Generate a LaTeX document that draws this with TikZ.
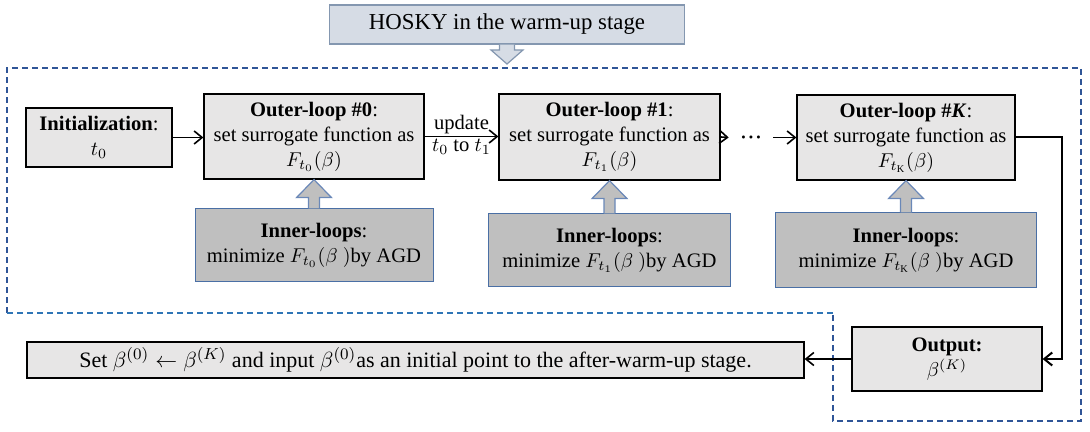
\documentclass[tikz,border=0pt]{standalone}
\usepackage{amsmath,amssymb}
\usepackage{fontspec}
\setmainfont{Liberation Serif}
\usepackage{xcolor}
\usetikzlibrary{arrows.meta, positioning, calc}

\definecolor{boxgray}{HTML}{E7E6E6}
\definecolor{innergray}{HTML}{BFBFBF}
\definecolor{innerblue}{HTML}{4A6FA5}
\definecolor{titlefill}{HTML}{D6DCE5}
\definecolor{titleline}{HTML}{8497B0}
\definecolor{arrowline}{HTML}{6A88B8}
\definecolor{regiondark}{HTML}{2F5597}
\definecolor{regionblue}{HTML}{2E75B6}

\begin{document}
\begin{tikzpicture}[x=0.5pt, y=-0.5pt, font=\fontsize{10.3}{12.5}\selectfont,
    >={Straight Barb[length=4pt,width=6.5pt]}, line width=0.6pt,
    box/.style={draw, fill=boxgray, align=center, inner sep=2pt},
    innerbox/.style={draw=innerblue, line width=0.5pt, fill=innergray, align=center, inner sep=2pt},
    titlebox/.style={draw=titleline, fill=titlefill, line width=0.6pt, inner sep=2pt,
      font=\fontsize{11.4}{13}\selectfont},
    blockarr/.style={draw=arrowline, fill=innergray, line width=0.6pt},
    titlearr/.style={draw=titleline, fill=titlefill, line width=0.6pt},
    link/.style={->, line width=0.8pt},
    region/.style={dash pattern=on 3pt off 2pt, line width=1pt}]
    \useasboundingbox (0,0) rectangle (1090,432);

    % dashed region of the warm-up stage
    \draw[region, draw=regiondark] (7,313) -- (7,68) -- (1081,68) -- (1081,421) -- (833,421) -- (833,313);
    \draw[region, draw=regionblue] (833,313) -- (7,313);

    \node[titlebox, minimum width=177.5pt, minimum height=19.5pt] (title) at (507,24.5) {HOSKY in the warm-up stage};
    \coordinate (tip) at (507,64);

    \node[box, minimum width=73pt, minimum height=29.5pt] (init) at (99,137.5) {\textbf{Initialization}:\\$t_0$};
    \node[box, minimum width=110pt, minimum height=42.5pt] (out0) at (314,136.5) {\textbf{Outer-loop \#0}:\\set surrogate function as\\$F_{t_0}(\beta)$};
    \node[box, minimum width=110.5pt, minimum height=43pt] (out1) at (609.5,137) {\textbf{Outer-loop \#1}:\\set surrogate function as\\$F_{t_1}(\beta)$};
    \node[box, minimum width=109pt, minimum height=42.5pt] (outK) at (906,137.5) {\textbf{Outer-loop \#\textit{K}}:\\set surrogate function as\\$F_{t_\mathrm{K}}(\beta)$};
    \node[inner sep=5.5pt] (dots) at (751,137.5) {$\boldsymbol{\cdot}\!\boldsymbol{\cdot}\!\boldsymbol{\cdot}$};

    \node[innerbox, minimum width=119pt, minimum height=36.5pt] (in0) at (314,245.5) {\textbf{Inner-loops}:\\minimize $F_{t_0}(\beta\ )$by AGD};
    \node[innerbox, minimum width=121pt, minimum height=36.5pt] (in1) at (609.5,250.5) {\textbf{Inner-loops}:\\minimize $F_{t_1}(\beta\ )$by AGD};
    \node[innerbox, minimum width=130.5pt, minimum height=37.5pt] (inK) at (906,250.5) {\textbf{Inner-loops}:\\minimize $F_{t_\mathrm{K}}(\beta\ )$by AGD};

    \node[box, minimum width=95pt, minimum height=32pt] (outp) at (947,359) {\textbf{Output:}\\$\beta^{(K)}$};
    \node[box, minimum width=388.5pt, minimum height=18pt, font=\fontsize{11}{13}\selectfont] (final) at (415.5,360) {Set $\beta^{(0)}\leftarrow\beta^{(K)}$ and input $\beta^{(0)}$as an initial point to the after-warm-up stage.};
    \coordinate (rturn) at (1062,138);

    % block arrows
    \draw[titlearr] ($(title.south)+(-7.5,0)$) -- ($(tip)+(-7.5,-14)$) -- ($(tip)+(-16,-14)$) -- (tip)
      -- ($(tip)+(16,-14)$) -- ($(tip)+(7.5,-14)$) -- ($(title.south)+(7.5,0)$);
    \foreach \a/\b in {in0/out0, in1/out1, inK/outK}
      \draw[blockarr] ($(\a.north)+(-5.5,0)$) -- ($(\b.south)+(-5.5,18)$) -- ($(\b.south)+(-17.5,18)$) -- (\b.south)
        -- ($(\b.south)+(17.5,18)$) -- ($(\b.south)+(5.5,18)$) -- ($(\a.north)+(5.5,0)$);

    \draw[link] (init.east) -- (init.east -| out0.west);
    \draw[link] (out0.east) -- node[above, inner sep=1pt]{update} node[below, inner sep=1pt]{$t_0$ to $t_1$} (out0.east -| out1.west);
    \draw[link] (out1.east) -- (dots.west);
    \draw[link] (dots.east) -- (dots.east -| outK.west);
    \draw[link, line width=1pt] (outK.east) -- (outK.east -| rturn) |- (outp.east);
    \draw[link] (outp.west) -- (outp.west -| final.east);
\end{tikzpicture}
\end{document}
